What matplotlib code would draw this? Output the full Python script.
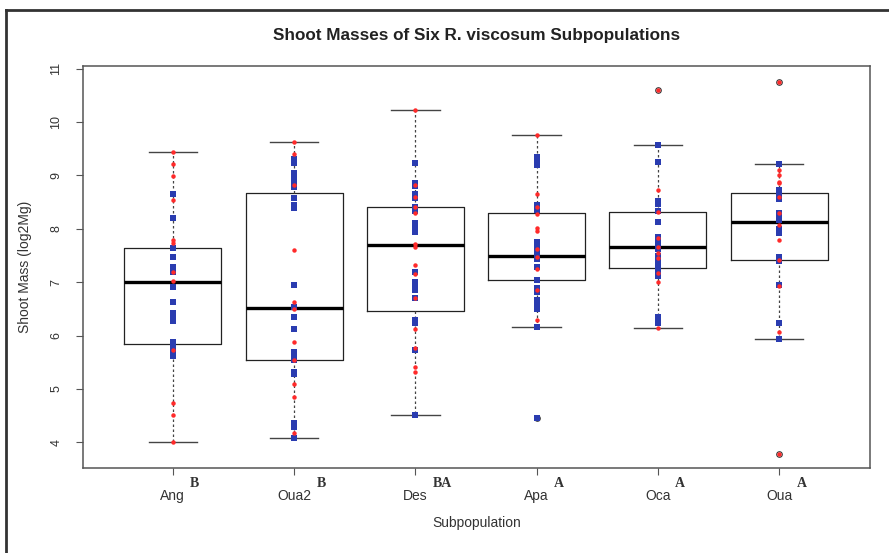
import matplotlib
matplotlib.use("Agg")
import matplotlib.pyplot as plt
from matplotlib.lines import Line2D

# ---- Data ----
GROUPS = ["Ang", "Oua2", "Des", "Apa", "Oca", "Oua"]
LETTERS = ["B", "B", "BA", "A", "A", "A"]

# box statistics per group
WHISLO = [4.00, 4.09, 4.51, 6.16, 6.15, 5.93]
Q1 = [5.85, 5.55, 6.46, 7.04, 7.26, 7.41]
MED = [7.01, 6.51, 7.69, 7.49, 7.66, 8.13]
Q3 = [7.65, 8.67, 8.41, 8.29, 8.32, 8.68]
WHISHI = [9.43, 9.63, 10.22, 9.75, 9.57, 9.21]
FLIERS = [[], [], [], [4.46], [10.60], [10.75, 3.79]]

# individual plants, two colour classes
BLUE = [
    [8.66, 8.2, 7.64, 7.48, 7.29, 7.2, 6.91, 6.63, 6.42, 6.35, 6.28, 5.88, 5.8, 5.7, 5.62],
    [9.3, 9.23, 9.05, 8.97, 8.88, 8.79, 8.57, 8.45, 8.39, 6.95, 6.54, 6.35, 6.13, 5.7,
     5.62, 5.54, 5.32, 5.28, 4.36, 4.29, 4.09],
    [9.23, 8.86, 8.8, 8.66, 8.58, 8.41, 8.33, 8.1, 8.02, 7.94, 7.2, 7.0, 6.93, 6.85, 6.7,
     6.29, 6.23, 5.73, 4.51],
    [9.35, 9.28, 9.2, 8.45, 8.35, 7.76, 7.7, 7.58, 7.5, 7.43, 7.29, 7.04, 6.9, 6.82, 6.66,
     6.58, 6.5, 6.16, 4.46],
    [9.57, 9.25, 8.52, 8.46, 8.34, 8.13, 7.85, 7.78, 7.7, 7.62, 7.5, 7.4, 7.3, 7.22, 7.12,
     6.35, 6.3, 6.23],
    [9.21, 8.72, 8.64, 8.56, 8.29, 8.2, 8.16, 8.0, 7.92, 7.48, 7.4, 6.95, 6.23, 5.93],
]
RED = [
    [9.43, 9.22, 8.99, 8.54, 7.79, 7.74, 7.2, 7.02, 5.73, 4.73, 4.51, 4.0],
    [9.63, 9.41, 8.82, 7.6, 6.63, 6.5, 5.88, 5.54, 5.1, 4.85, 4.17],
    [10.22, 8.82, 8.6, 8.4, 8.3, 7.72, 7.66, 7.32, 7.15, 6.7, 6.13, 5.77, 5.42, 5.32],
    [9.75, 8.66, 8.4, 8.28, 8.02, 7.95, 7.62, 7.47, 7.25, 6.85, 6.3],
    [10.6, 8.72, 8.32, 7.82, 7.66, 7.55, 7.45, 7.18, 7.01, 6.15],
    [10.75, 9.1, 9.0, 8.88, 8.85, 8.6, 8.3, 8.07, 7.79, 7.42, 6.93, 6.07, 3.79],
]

BLUE_COLOR = "#2a3cb0"
RED_COLOR = "#ff2a2a"
TEXT_COLOR = "#333333"

plt.rcParams["font.family"] = ["Liberation Sans", "DejaVu Sans"]

fig = plt.figure(figsize=(8.89, 5.53), dpi=100)
ax = fig.add_axes([0.0934, 0.1537, 0.8852, 0.727])

positions = list(range(1, len(GROUPS) + 1))
stats = []
for i, name in enumerate(GROUPS):
    stats.append(dict(label=name, whislo=WHISLO[i], q1=Q1[i], med=MED[i],
                      q3=Q3[i], whishi=WHISHI[i], fliers=FLIERS[i]))

ax.bxp(stats, positions=positions, widths=0.8, capwidths=0.4,
       boxprops=dict(color="#222222", linewidth=0.9),
       medianprops=dict(color="black", linewidth=2.4),
       whiskerprops=dict(color="#444444", linewidth=0.9, linestyle=(0, (2, 2))),
       capprops=dict(color="#444444", linewidth=1.0),
       flierprops=dict(marker="o", markerfacecolor="none", markeredgecolor="#333333",
                       markersize=4, markeredgewidth=0.8),
       zorder=2)

# stripchart of the individual plants on top of the boxes
for i, pos in enumerate(positions):
    ax.plot([pos] * len(BLUE[i]), BLUE[i], linestyle="none", marker="s",
            markersize=4.4, color=BLUE_COLOR, markeredgewidth=0, zorder=3)
    ax.plot([pos] * len(RED[i]), RED[i], linestyle="none", marker="o",
            markersize=3.2, color=RED_COLOR, markeredgewidth=0, zorder=4)

ax.set_xlim(0.26, 6.75)
ax.set_ylim(3.52, 11.05)
ax.set_yticks(range(4, 12))
ax.set_xticks(positions)
ax.set_xticklabels(GROUPS)
for sp in ax.spines.values():
    sp.set_color("#555555")
    sp.set_linewidth(1.1)
ax.tick_params(axis="both", colors="#555555", labelcolor=TEXT_COLOR, length=5)
ax.tick_params(axis="x", pad=10, labelsize=10)
ax.tick_params(axis="y", labelrotation=90, pad=10, labelsize=9)
for lab in ax.get_yticklabels():
    lab.set_va("center")

# significance letters next to each tick label
for pos, name, letter in zip(positions, GROUPS, LETTERS):
    ax.annotate(letter, xy=(pos, 0), xycoords=ax.get_xaxis_transform(),
                xytext=(3.7 * len(name) + 1.5, -11), textcoords="offset points",
                ha="left", va="center", fontsize=10, fontweight="bold",
                family=["Liberation Serif", "DejaVu Serif"], color=TEXT_COLOR)

ax.set_title("Shoot Masses of Six R. viscosum Subpopulations", fontsize=12.3,
             fontweight="bold", color="#222222", pad=19)
ax.set_ylabel("Shoot Mass (log2Mg)", fontsize=10, color=TEXT_COLOR)
ax.yaxis.set_label_coords(-0.065, 0.5)
ax.set_xlabel("Subpopulation", fontsize=10, color=TEXT_COLOR)
ax.xaxis.set_label_coords(0.5, -0.12)

# page frame visible on the left and top of the original scan
fig.add_artist(Line2D([0.0062, 0.0062], [0.0, 0.982], transform=fig.transFigure,
                      color="#333333", linewidth=2.0))
fig.add_artist(Line2D([0.0062, 1.0], [0.982, 0.982], transform=fig.transFigure,
                      color="#333333", linewidth=2.0))

fig.savefig("out.png", dpi=100)
